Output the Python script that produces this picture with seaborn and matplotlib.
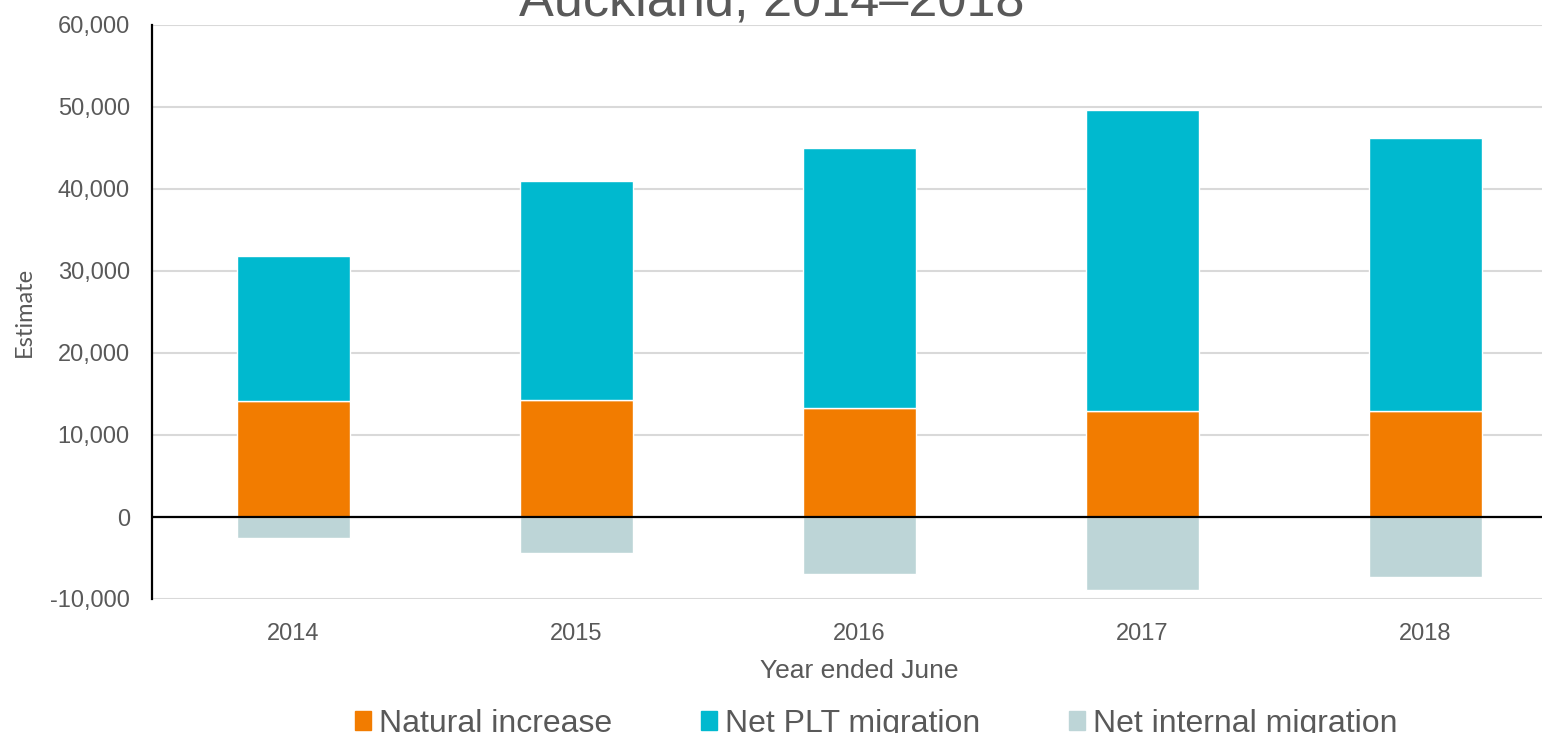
import matplotlib
matplotlib.use("Agg")
import matplotlib.pyplot as plt
import matplotlib.patches as mpatches
from matplotlib.ticker import FuncFormatter
import seaborn as sns
import pandas as pd

# data
years = ['2014', '2015', '2016', '2017', '2018']
natural_increase = [14110, 14270, 13330, 12960, 12960]
net_plt_migration = [17720, 26750, 31730, 36690, 33200]
net_internal_migration = [-2560, -4350, -6990, -8940, -7320]

series_names = ['Natural increase', 'Net PLT migration', 'Net internal migration']
series_colors = ['#F27C00', '#00B9CF', '#BDD5D7']

df = pd.DataFrame({'Year': years,
                   'Natural': natural_increase,
                   'PLT': net_plt_migration,
                   'Internal': net_internal_migration})

sns.set_style('white')
plt.rcParams['font.family'] = ['Liberation Sans', 'DejaVu Sans']
grey_text = '#595959'

W, H = 1542, 733
fig = plt.figure(figsize=(W / 100, H / 100), dpi=100)
# axes extends past the right edge, as in the cropped reference
ax = fig.add_axes([152 / W, (H - 599) / H, 1415 / W, (599 - 25) / H])

# stacked bars: natural + PLT above zero, internal below
sns.barplot(data=df, x='Year', y='Natural', color=series_colors[0], width=0.4,
            saturation=1, ax=ax)
sns.barplot(data=df, x='Year', y='PLT', bottom=df['Natural'], color=series_colors[1],
            width=0.4, saturation=1, ax=ax)
sns.barplot(data=df, x='Year', y='Internal', color=series_colors[2], width=0.4,
            saturation=1, ax=ax)

ax.set_ylim(-10000, 60000)
ax.set_xlim(-0.5, 4.5)
ax.set_yticks(range(-10000, 60001, 10000))
ax.yaxis.set_major_formatter(FuncFormatter(lambda v, p: f'{int(v):,}'))
ax.grid(axis='y', color='#D9D9D9', linewidth=1.5)
ax.set_axisbelow(True)
ax.axhline(0, color='black', linewidth=1.6)

for side in ['top', 'right', 'bottom']:
    ax.spines[side].set_visible(False)
ax.spines['left'].set_color('black')
ax.spines['left'].set_linewidth(1.6)

ax.tick_params(axis='y', length=0, pad=16, labelsize=17, labelcolor=grey_text)
ax.tick_params(axis='x', length=0, pad=17, labelsize=17, labelcolor=grey_text)

ax.set_xlabel('Year ended June', fontsize=19, color=grey_text, labelpad=10)
ax.set_ylabel('Estimate', fontsize=17, color=grey_text, family=['Lato', 'DejaVu Sans'])
ax.yaxis.set_label_coords((35 - 152) / 1415, 0.5)

# title (top is cut off in the reference)
fig.text(772 / W, 1 - 16 / H, 'Auckland, 2014\u20132018', ha='center', va='baseline',
         fontsize=37.6, color=grey_text)

handles = [mpatches.Patch(color=c) for c in series_colors]
fig.legend(handles, series_names, loc='upper left', bbox_to_anchor=(355 / W, 1 - 709 / H),
           ncol=3, frameon=False, fontsize=23, handlelength=0.5, handleheight=0.55,
           handletextpad=0.25, columnspacing=2.78, borderpad=0, borderaxespad=0,
           labelcolor=grey_text)

fig.savefig('out.png', dpi=100)
